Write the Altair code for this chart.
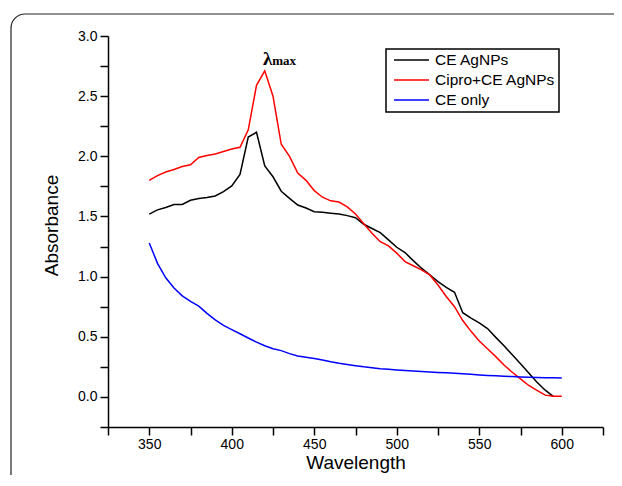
import altair as alt
import pandas as pd

wavelength = [350, 355, 360, 365, 370, 375, 380, 385, 390, 395,
              400, 405, 410, 415, 420, 425, 430, 435, 440, 445,
              450, 455, 460, 465, 470, 475, 480, 485, 490, 495,
              500, 505, 510, 515, 520, 525, 530, 535, 540, 545,
              550, 555, 560, 565, 570, 575, 580, 585, 590, 595, 600]

ce_agnps = [1.52, 1.555, 1.575, 1.60, 1.60, 1.635, 1.65, 1.657, 1.67, 1.707,
            1.754, 1.85, 2.16, 2.20, 1.92, 1.83, 1.71, 1.65, 1.595, 1.57,
            1.54, 1.535, 1.527, 1.52, 1.507, 1.49, 1.435, 1.40, 1.366, 1.305,
            1.244, 1.20, 1.133, 1.07, 1.014, 0.958, 0.91, 0.87, 0.70, 0.655,
            0.615, 0.568, 0.495, 0.425, 0.35, 0.275, 0.198, 0.122, 0.056, 0.003]

cipro_ce = [1.80, 1.84, 1.87, 1.89, 1.915, 1.93, 1.99, 2.006, 2.02, 2.04,
            2.06, 2.075, 2.22, 2.59, 2.71, 2.50, 2.10, 2.00, 1.86, 1.80,
            1.715, 1.66, 1.63, 1.62, 1.58, 1.52, 1.44, 1.36, 1.29, 1.255,
            1.195, 1.125, 1.09, 1.056, 1.014, 0.93, 0.835, 0.75, 0.635, 0.545,
            0.465, 0.40, 0.335, 0.265, 0.205, 0.15, 0.095, 0.055, 0.015, 0.005, 0.005]

ce_only = [1.28, 1.11, 0.99, 0.905, 0.84, 0.795, 0.755, 0.695, 0.64, 0.595,
           0.56, 0.525, 0.49, 0.455, 0.425, 0.40, 0.385, 0.36, 0.34, 0.33,
           0.32, 0.307, 0.292, 0.28, 0.27, 0.26, 0.25, 0.242, 0.235, 0.23,
           0.224, 0.219, 0.215, 0.211, 0.208, 0.204, 0.20, 0.197, 0.192, 0.188,
           0.183, 0.179, 0.175, 0.172, 0.169, 0.166, 0.164, 0.162, 0.160, 0.159, 0.158]

series_names = ["CE AgNPs", "Cipro+CE AgNPs", "CE only"]
series_colors = ["#000000", "#ff0000", "#0000ff"]

x_ticks = [325, 350, 375, 400, 425, 450, 475, 500, 525, 550, 575, 600, 625]
y_ticks = [-0.25, 0, 0.25, 0.5, 0.75, 1, 1.25, 1.5, 1.75, 2, 2.25, 2.5, 2.75, 3]

annot_x = [421.7]
annot_y = [2.76]

rows = []
for name, vals in zip(series_names, [ce_agnps, cipro_ce, ce_only]):
    for w, v in zip(wavelength, vals):
        rows.append({"Wavelength": w, "Absorbance": v, "Series": name})
df = pd.DataFrame(rows)

annot = pd.DataFrame({"Wavelength": annot_x, "Absorbance": annot_y})

x_enc = alt.X("Wavelength:Q",
              scale=alt.Scale(domain=[325, 625], nice=False, zero=False),
              axis=alt.Axis(values=x_ticks, title="Wavelength",
                            labelExpr="round(datum.value) % 50 == 0 ? format(datum.value, 'd') : ''",
                            grid=False, tickSize=8, labelPadding=2, labelOverlap=False,
                            titleY=26, titleBaseline="top"))
y_enc = alt.Y("Absorbance:Q",
              scale=alt.Scale(domain=[-0.25, 3.0], nice=False, zero=False),
              axis=alt.Axis(values=y_ticks, title="Absorbance",
                            labelExpr="round(datum.value * 4) % 2 == 0 ? format(datum.value, '.1f') : ''",
                            grid=False, tickSize=8, labelPadding=3, labelOverlap=False,
                            titleX=-57, titleY=189, titleAngle=-90,
                            titleAlign="center", titleBaseline="middle"))

lines = alt.Chart(df).mark_line(strokeWidth=1.5).encode(
    x=x_enc,
    y=y_enc,
    color=alt.Color("Series:N",
                    scale=alt.Scale(domain=series_names, range=series_colors),
                    sort=series_names,
                    legend=alt.Legend(title=None, orient="none", legendX=278, legendY=13,
                                      strokeColor="#000000", fillColor="#ffffff",
                                      padding=3, symbolType="stroke", symbolSize=1225,
                                      symbolStrokeWidth=1.5, clipHeight=16, rowPadding=3,
                                      symbolOffset=4, labelFontSize=15.5, labelOffset=5,
                                      labelFont="Liberation Sans", labelColor="#000000")),
)

lam = alt.Chart(annot).mark_text(text="λ", font="Liberation Serif", fontSize=19,
                                  fontWeight="bold", baseline="alphabetic",
                                  align="center", color="#000000").encode(
    x=x_enc, y=y_enc)
mx = alt.Chart(annot).mark_text(text="max", font="Liberation Serif", fontSize=13,
                                 fontWeight="bold", baseline="alphabetic",
                                 align="center", dx=16.5, color="#000000").encode(
    x=x_enc, y=y_enc)

border = alt.Chart(pd.DataFrame({"k": [0]})).mark_rect(
    filled=False, stroke="#222222", strokeWidth=1.2, cornerRadius=14).encode(
    x=alt.value(-97), x2=alt.value(800), y=alt.value(-22), y2=alt.value(700))

chart = alt.layer(border, lines, lam, mx).properties(
    width=495, height=391,
    autosize=alt.AutoSizeParams(type="none"),
    padding={"left": 100, "top": 28, "right": 11, "bottom": 48},
).configure_view(strokeWidth=0).configure_axis(
    domainColor="#000000", domainWidth=1.5, tickColor="#000000", tickWidth=1.5,
    labelFont="Liberation Sans", labelFontSize=14, labelColor="#000000",
    titleFont="Liberation Sans", titleFontSize=19, titleFontWeight="normal",
    titleColor="#000000"
).configure_legend(strokeWidth=1.5)

chart.save("out.html", embed_options={"renderer": "svg", "actions": False})
